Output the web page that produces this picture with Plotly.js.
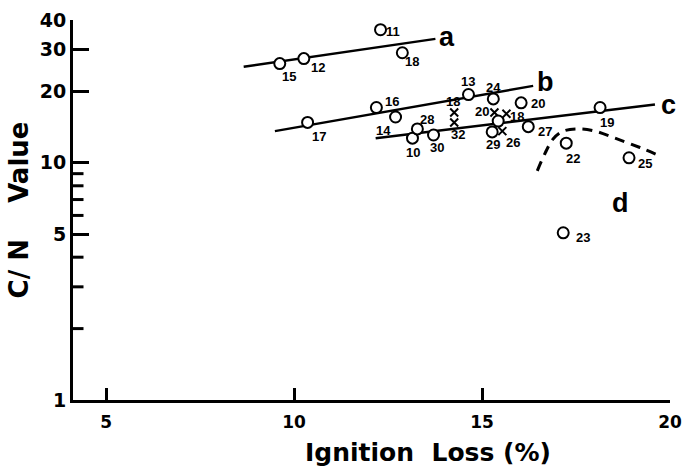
<!DOCTYPE html>
<html>
<head>
<meta charset="utf-8">
<script src="https://cdn.plot.ly/plotly-3.0.1.min.js"></script>
<style>html,body{margin:0;padding:0;background:#fff;}#chart{width:686px;height:470px;}</style>
</head>
<body>
<div id="chart"></div>
<script>
// ---- data ----
const circleX = [9.62, 10.26, 12.30, 12.88, 10.36, 12.19, 12.70, 13.15, 13.28, 13.71, 14.64, 15.30, 16.04, 15.43, 16.23, 15.27, 17.24, 18.14, 18.91, 17.16];
const circleY = [26.2, 27.5, 36.4, 29.1, 14.8, 17.1, 15.6, 12.7, 13.9, 13.1, 19.4, 18.6, 17.9, 15.0, 14.2, 13.5, 12.1, 17.1, 10.5, 5.07];
const circleLabels = ['15','12','11','18','17','16','14','10','28','30','13','24','20','','27','29','22','19','25','23'];

const crossX = [14.26, 14.26, 15.33, 15.65, 15.54];
const crossY = [16.3, 14.8, 16.3, 16.1, 13.6];
const crossLabels = ['18','32','20','18','26'];

const lineAX = [8.66, 13.76];
const lineAY = [25.4, 33.3];
const lineBX = [9.49, 16.36];
const lineBY = [13.6, 21.1];
const lineCX = [12.17, 19.60];
const lineCY = [12.7, 17.6];
const curveDX = [16.47, 16.68, 16.89, 17.16, 17.56, 18.01, 18.54, 19.20, 19.79];
const curveDY = [9.25, 11.0, 12.6, 13.6, 13.9, 13.6, 12.7, 11.6, 10.6];

const lineNames = ['a', 'b', 'c', 'd'];
const lineNameX = [14.08, 16.68, 19.95, 18.67];
const lineNameY = [34.0, 22.0, 17.6, 6.78];

const yTickVals = [1, 5, 10, 20, 30, 40];
const yTickText = ['1', '5', '10', '20', '30', '40'];
const yMinorVals = [2, 3, 4, 6, 7, 8, 9];
const xTickVals = [5, 10, 15, 20];
const xTickText = ['5', '10', '15', '20'];

const xRange = [4.12, 20];
const yRange = [0, Math.log10(40)];

// ---- label offsets (pixels, screen: dx right, dy down) ----
const circleOff = [[9,13],[14,9],[12,2],[10,9],[11,14],[16,-6],[-12,13],[1,14],[10,-9],[3,13],[0,-13],[0,-11],[17,1],[0,0],[17,5],[1,13],[7,15],[7,15],[16,6],[20,5]];
const crossOff = [[-1,-11],[4,12],[-12,-1],[11,3],[11,11]];

const FONT = 'DejaVu Sans, Liberation Sans, sans-serif';
const LFONT = 'Liberation Sans, Arial, sans-serif';
const lineStyle = {color: 'black', width: 2.5};

const traces = [
  {x: lineAX, y: lineAY, mode: 'lines', line: lineStyle, hoverinfo: 'skip'},
  {x: lineBX, y: lineBY, mode: 'lines', line: lineStyle, hoverinfo: 'skip'},
  {x: lineCX, y: lineCY, mode: 'lines', line: lineStyle, hoverinfo: 'skip'},
  {x: curveDX, y: curveDY, mode: 'lines', line: {color: 'black', width: 3, dash: '10px,7px', shape: 'spline'}, hoverinfo: 'skip'},
  {x: crossX, y: crossY, mode: 'markers', marker: {symbol: 'x-thin-open', size: 8, color: 'black', line: {color: 'black', width: 2}}, hoverinfo: 'skip'},
  {x: circleX, y: circleY, mode: 'markers', marker: {symbol: 'circle', size: 11, color: 'white', line: {color: 'black', width: 2}}, hoverinfo: 'skip'},
  // minor y ticks: short horizontal strokes on the y axis line (outer half clipped)
  {x: yMinorVals.map(() => xRange[0]), y: yMinorVals, mode: 'markers', cliponaxis: true,
   marker: {symbol: 'line-ew', size: 15, color: 'black', line: {color: 'black', width: 3}}, hoverinfo: 'skip'}
];

const annotations = [];
circleLabels.forEach((t, i) => {
  if (!t) return;
  annotations.push({x: circleX[i], y: Math.log10(circleY[i]), xref: 'x', yref: 'y', text: '<b>' + t + '</b>', showarrow: false,
    xshift: circleOff[i][0], yshift: -circleOff[i][1], font: {family: LFONT, size: 13, color: 'black'}, xanchor: 'center', yanchor: 'middle'});
});
crossLabels.forEach((t, i) => {
  annotations.push({x: crossX[i], y: Math.log10(crossY[i]), xref: 'x', yref: 'y', text: '<b>' + t + '</b>', showarrow: false,
    xshift: crossOff[i][0], yshift: -crossOff[i][1], font: {family: LFONT, size: 13, color: 'black'}, xanchor: 'center', yanchor: 'middle'});
});
lineNames.forEach((t, i) => {
  annotations.push({x: lineNameX[i], y: Math.log10(lineNameY[i]), xref: 'x', yref: 'y', text: '<b>' + t + '</b>', showarrow: false,
    font: {family: LFONT, size: 27, color: 'black'}, xanchor: 'center', yanchor: 'middle'});
});
annotations.push({x: 0.595, y: -0.137, xref: 'paper', yref: 'paper', text: '<b>Ignition\u00a0\u00a0Loss (%)</b>', showarrow: false,
  font: {family: FONT, size: 25, color: 'black'}, xanchor: 'center', yanchor: 'middle'});

const layout = {
  width: 686, height: 470,
  margin: {l: 73, r: 16, t: 20, b: 70},
  paper_bgcolor: 'white', plot_bgcolor: 'white',
  showlegend: false,
  font: {family: FONT, color: 'black'},
  xaxis: {
    range: xRange, showgrid: false, zeroline: false,
    showline: true, linewidth: 3, linecolor: 'black',
    tickmode: 'array', tickvals: xTickVals, ticktext: xTickText,
    ticks: 'inside', ticklen: 12, tickwidth: 3, tickcolor: 'black',
    ticklabelstandoff: 5,
    tickfont: {family: FONT, size: 17, weight: 'bold'}
  },
  yaxis: {
    type: 'log', range: yRange, showgrid: false, zeroline: false,
    showline: true, linewidth: 3, linecolor: 'black',
    tickmode: 'array', tickvals: yTickVals, ticktext: yTickText,
    ticks: 'inside', ticklen: 16, tickwidth: 3, tickcolor: 'black',
    tickfont: {family: FONT, size: 19, weight: 'bold'},
    title: {text: '<b>C/\u00a0N\u00a0\u00a0\u00a0\u00a0Value</b>', font: {family: FONT, size: 26}, standoff: 4}
  },
  annotations: annotations
};

Plotly.newPlot('chart', traces, layout, {staticPlot: true, displayModeBar: false});
</script>
</body>
</html>
